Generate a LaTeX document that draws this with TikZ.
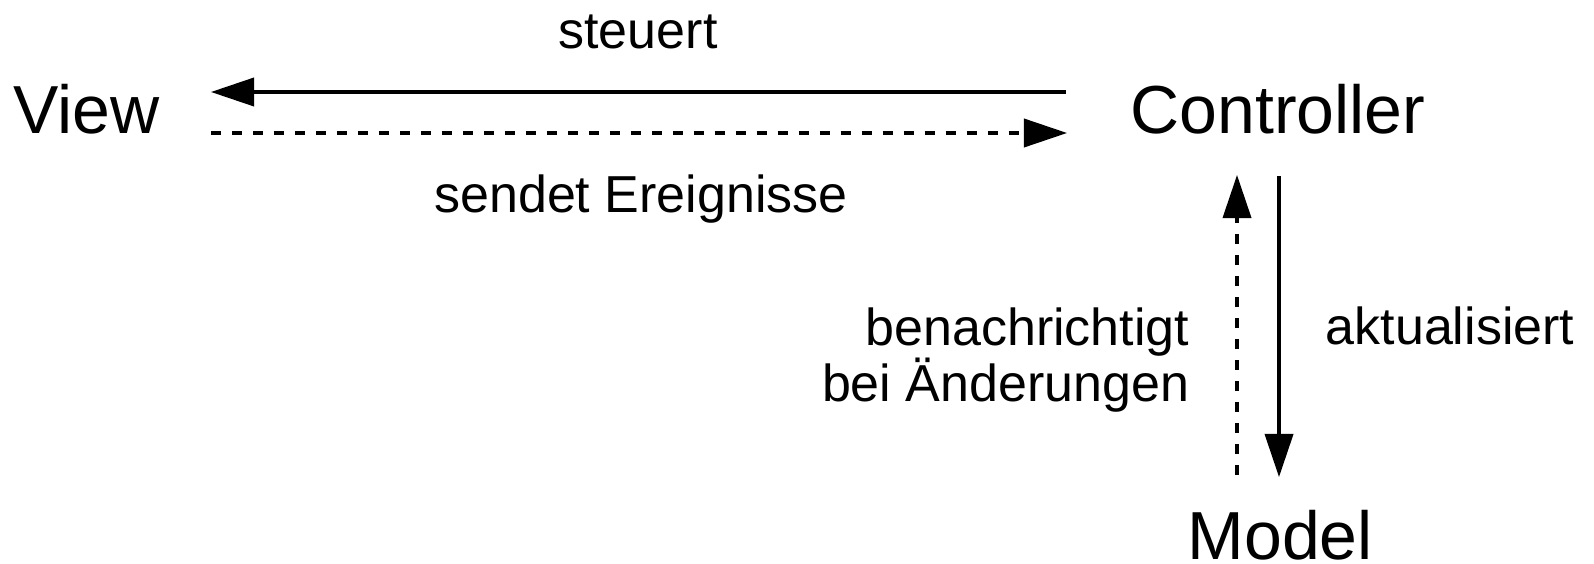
\documentclass[tikz,border=0pt]{standalone}
\usepackage{fontspec}
\setmainfont{Liberation Sans}
\usetikzlibrary{arrows.meta}
\begin{document}
\begin{tikzpicture}[x=0.2692pt,y=-0.2692pt,
  big/.style={inner sep=0pt,font=\fontsize{18.3}{21}\selectfont},
  lbl/.style={inner sep=0pt,font=\fontsize{14}{15}\selectfont},
  conn/.style={line width=0.85pt,-{Triangle[length=11.6pt,width=7.6pt]}},
  dsh/.style={dash pattern=on 2.8pt off 2.85pt}]
\useasboundingbox (0,0) rectangle (1594,563);
\node[big,anchor=base west] (V) at (13,133) {View};
\node[big,anchor=base west] (C) at (1130,133) {Controller};
\node[big,anchor=base west] (M) at (1187,559) {Model};
\coordinate (c1) at (1066,92);
\coordinate (v1) at (211,92);
\coordinate (v2) at (211,133);
\coordinate (c2) at (1067,133);
\coordinate (m1) at (1237,475);
\coordinate (c3) at (1237,175);
\coordinate (c4) at (1279,176);
\coordinate (m2) at (1279,477);
\draw[conn] (c1) -- (v1);
\draw[conn,dsh] (v2) -- (c2);
\draw[conn,dsh] (m1) -- (c3);
\draw[conn] (c4) -- (m2);
\node[lbl,anchor=base] (st) at (638,49) {steuert};
\node[lbl,anchor=base] (se) at (641,212) {sendet Ereignisse};
\node[lbl,anchor=base east,align=right] (be) at (1190,401) {benachrichtigt\\bei Änderungen};
\node[lbl,anchor=base west] (ak) at (1325,344) {aktualisiert};
\end{tikzpicture}
\end{document}
